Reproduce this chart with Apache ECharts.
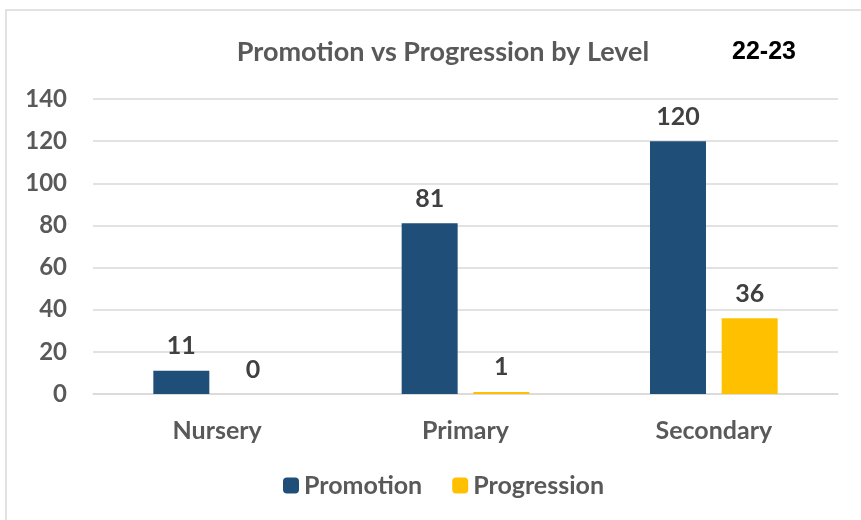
<!DOCTYPE html>
<html><head><meta charset="utf-8">
<script src="https://cdn.jsdelivr.net/npm/echarts@6/dist/echarts.min.js"></script>
<style>html,body{margin:0;padding:0;background:#fff}#c{width:861px;height:520px}</style>
</head><body><div id="c"></div>
<script>
const categories = ["Nursery", "Primary", "Secondary"];
const promotion = [11, 81, 120];
const progression = [0, 1, 36];
const seriesNames = ["Promotion", "Progression"];
const titleText = "Promotion vs Progression by Level";
const yearText = "22-23";

const FONT = "Lato, 'Open Sans', sans-serif";
const chart = echarts.init(document.getElementById('c'));
chart.setOption({
  animation: false,
  textStyle: { fontFamily: FONT },
  graphic: [
    { type: 'rect', shape: { x: 6, y: 10, width: 900, height: 560 }, style: { fill: 'none', stroke: '#d9d9d9', lineWidth: 1.5 }, silent: true },
    { type: 'text', left: 732, top: 40, style: { text: yearText, font: "bold 25px 'Liberation Sans', Arial, sans-serif", fill: '#000' } }
  ],
  title: {
    text: titleText, left: 438, top: 34, textAlign: 'center',
    textStyle: { fontFamily: FONT, fontWeight: 'bold', fontSize: 27, color: '#595959' }
  },
  legend: {
    data: seriesNames, bottom: 17, left: 278, itemWidth: 16, itemHeight: 16, itemGap: 30,
    textStyle: { fontFamily: FONT, fontWeight: 'bold', fontSize: 25, color: '#595959' }
  },
  grid: { left: 93, right: 23, top: 99, bottom: 126, containLabel: false },
  xAxis: {
    type: 'category', data: categories,
    axisLine: { lineStyle: { color: '#d9d9d9', width: 1.5 } },
    axisTick: { show: false },
    axisLabel: { margin: 24, fontFamily: FONT, fontWeight: 'bold', fontSize: 25, color: '#595959' }
  },
  yAxis: {
    type: 'value', min: 0, max: 140, interval: 20,
    axisLine: { show: false }, axisTick: { show: false },
    splitLine: { lineStyle: { color: '#d9d9d9', width: 1.5 } },
    axisLabel: { margin: 26, fontFamily: FONT, fontWeight: 'bold', fontSize: 24, color: '#595959' }
  },
  series: [
    { name: seriesNames[0], type: 'bar', data: promotion, barWidth: 56, barGap: '28%',
      itemStyle: { color: '#1f4e79' },
      label: { show: true, position: 'top', distance: 12, fontFamily: FONT, fontWeight: 'bold', fontSize: 25, color: '#404040' } },
    { name: seriesNames[1], type: 'bar', data: progression, barWidth: 56,
      itemStyle: { color: '#ffc000' },
      label: { show: true, position: 'top', distance: 12, fontFamily: FONT, fontWeight: 'bold', fontSize: 25, color: '#404040' } }
  ]
});
</script></body></html>
